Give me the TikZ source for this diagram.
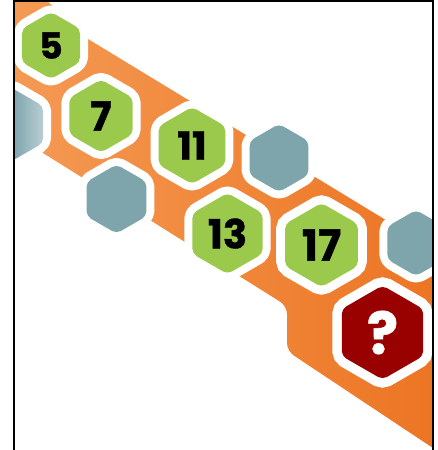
\documentclass[tikz,border=0pt]{standalone}
\usepackage{fontspec}
\setmainfont{Poppins}[BoldFeatures={FakeBold=1}]
\usepackage{xcolor}
\definecolor{bandlight}{RGB}{245,155,85}
\definecolor{banddark}{RGB}{236,116,34}
\definecolor{cellgreen}{RGB}{155,201,76}
\definecolor{cellteal}{RGB}{126,164,172}
\definecolor{tealdeep}{RGB}{60,118,132}
\definecolor{teallight}{RGB}{184,205,210}
\definecolor{cellred}{RGB}{153,0,0}
\usepackage{tikz}
\usetikzlibrary{shapes.geometric}

\begin{document}
\begin{tikzpicture}[x=0.5pt, y=-0.5pt]
  \tikzstyle{cell} = [regular polygon, regular polygon sides=6, shape border rotate=30, inner sep=0pt, rounded corners=2.5pt, font=\bfseries, preaction={draw=white, fill=white, line width=8pt, line join=round}]
  \tikzstyle{frame} = [line width=1pt, black]

  \useasboundingbox (0,0) rectangle (438,450);

  \begin{scope}
    \clip (13,1) rectangle (433,460);
    % orange band
    \shade[left color=bandlight, right color=banddark] (0,-2) -- (44,-2) -- (88,39) -- (445,256) -- (445,456) [rounded corners=4pt] -- (287,351) -- (287,306) [sharp corners] -- (0,126) -- cycle;

    \node [cell, left color=tealdeep, right color=teallight, minimum size=37pt] (tealwest) at (11,124.5) {};
    \node [cell, fill=cellteal, minimum size=34.5pt] (tealmid) at (116.5,199) {};
    \node [cell, fill=cellteal, minimum size=34pt] (tealnorth) at (279,158) {};
    \node [cell, fill=cellteal, minimum size=33pt] (tealeast) at (416,243) {};

    \node [cell, fill=cellgreen, minimum size=33.5pt, font=\fontsize{18}{18}\bfseries] (five) at (51,45.5) {5};
    \node [cell, fill=cellgreen, minimum size=36.5pt, font=\fontsize{20}{20}\bfseries] (seven) at (101,116) {7};
    \node [cell, fill=cellgreen, minimum size=38.5pt, font=\fontsize{19.5}{19.5}\bfseries] (eleven) at (192,145.5) {11};
    \node [cell, fill=cellgreen, minimum size=40.5pt, font=\fontsize{20}{20}\bfseries] (thirteen) at (227.5,233.5) {13};
    \node [cell, fill=cellgreen, minimum size=42pt, font=\fontsize{21.5}{21.5}\bfseries, preaction={draw=white, line width=9pt}] (seventeen) at (321.5,245) {17};
    \node [cell, fill=cellred, text=white, minimum size=47pt, font=\fontsize{29}{29}\bfseries, preaction={draw=white, line width=9.5pt}] (query) at (382.5,332.5) {?};
  \end{scope}

  \draw [frame] (13.5,460) -- (13.5,1) -- (433,1) -- (433,460);
\end{tikzpicture}
\end{document}
